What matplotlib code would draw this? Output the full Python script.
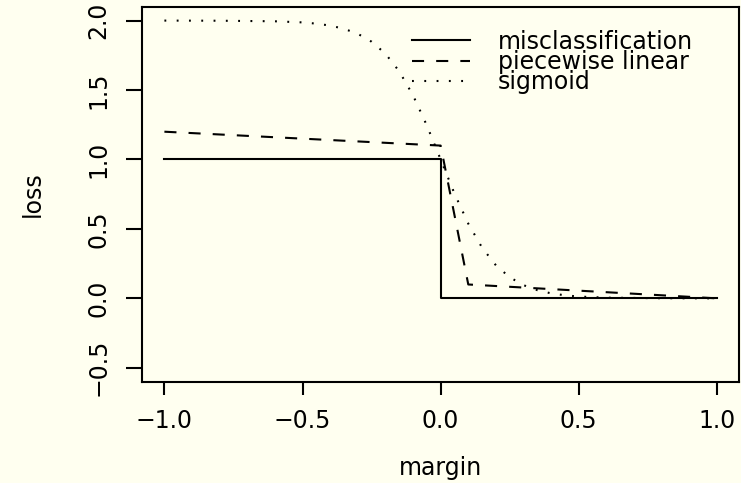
import matplotlib
matplotlib.use("Agg")
import matplotlib.pyplot as plt

# ---- data ----
misclass_x = [-1.0, 0.0, 0.0, 1.0]
misclass_y = [1.0, 1.0, 0.0, 0.0]

piecewise_x = [-1.0, 0.0, 0.1, 1.0]
piecewise_y = [1.2, 1.1, 0.1, 0.0]

sigmoid_x = [-1.0, -0.8, -0.6, -0.5, -0.45, -0.4, -0.35, -0.3, -0.25, -0.2,
             -0.15, -0.1, -0.05, 0.0, 0.05, 0.1, 0.15, 0.2, 0.25, 0.3,
             0.35, 0.4, 0.45, 0.5, 0.6, 0.8, 1.0]
sigmoid_y = [2.000, 1.999, 1.995, 1.987, 1.978, 1.964, 1.941, 1.905, 1.848, 1.762,
             1.635, 1.462, 1.245, 1.000, 0.755, 0.538, 0.365, 0.238, 0.152, 0.095,
             0.059, 0.036, 0.022, 0.013, 0.005, 0.001, 0.000]

series_labels = ["misclassification", "piecewise linear", "sigmoid"]

x_ticks = [-1.0, -0.5, 0.0, 0.5, 1.0]
x_ticklabels = ["\u22121.0", "\u22120.5", "0.0", "0.5", "1.0"]
y_ticks = [-0.5, 0.0, 0.5, 1.0, 1.5, 2.0]
y_ticklabels = ["\u22120.5", "0.0", "0.5", "1.0", "1.5", "2.0"]

x_label = "margin"
y_label = "loss"

# ---- style ----
BG = "#fffff0"
FS = 17
LW = 1.5
plt.rcParams["font.family"] = ["DejaVu Sans"]

fig = plt.figure(figsize=(7.41, 4.83), dpi=100, facecolor=BG)
W, H = 741, 483
left, right, top, bottom = 142.3, 739.0, 6.7, 381.7
ax = fig.add_axes([left / W, (H - bottom) / H, (right - left) / W, (bottom - top) / H])
ax.set_facecolor(BG)

ax.plot(misclass_x, misclass_y, color="black", lw=LW, linestyle="-",
        label=series_labels[0])
ax.plot(piecewise_x, piecewise_y, color="black", lw=LW,
        linestyle=(0, (5.8, 5.8)), label=series_labels[1])
ax.plot(sigmoid_x, sigmoid_y, color="black", lw=LW,
        linestyle=(0, (0.9, 5.0)), label=series_labels[2])

ax.set_xlim(-1.08, 1.08)
ax.set_ylim(-0.6, 2.1)

ax.set_xticks(x_ticks)
ax.set_xticklabels(x_ticklabels, fontsize=FS)
ax.set_yticks(y_ticks)
ax.set_yticklabels(y_ticklabels, fontsize=FS, rotation=90, va="center")

ax.tick_params(axis="x", direction="out", length=9.6, width=LW, pad=9.8,
               colors="black")
ax.tick_params(axis="y", direction="out", length=11.5, width=LW, pad=11.5,
               colors="black")
for s in ax.spines.values():
    s.set_linewidth(LW)
    s.set_color("black")

ax.set_xlabel(x_label, fontsize=FS)
ax.set_ylabel(y_label, fontsize=FS)
ax.xaxis.set_label_coords(0.5, -0.197)
ax.yaxis.set_label_coords(-0.164, 0.5)

leg = ax.legend(loc="upper left", bbox_to_anchor=(0.452, 0.939),
                frameon=False, fontsize=FS, handlelength=2.46,
                handletextpad=1.18, labelspacing=-0.16, borderpad=0,
                borderaxespad=0)

fig.savefig("out.png", dpi=100, facecolor=BG)
